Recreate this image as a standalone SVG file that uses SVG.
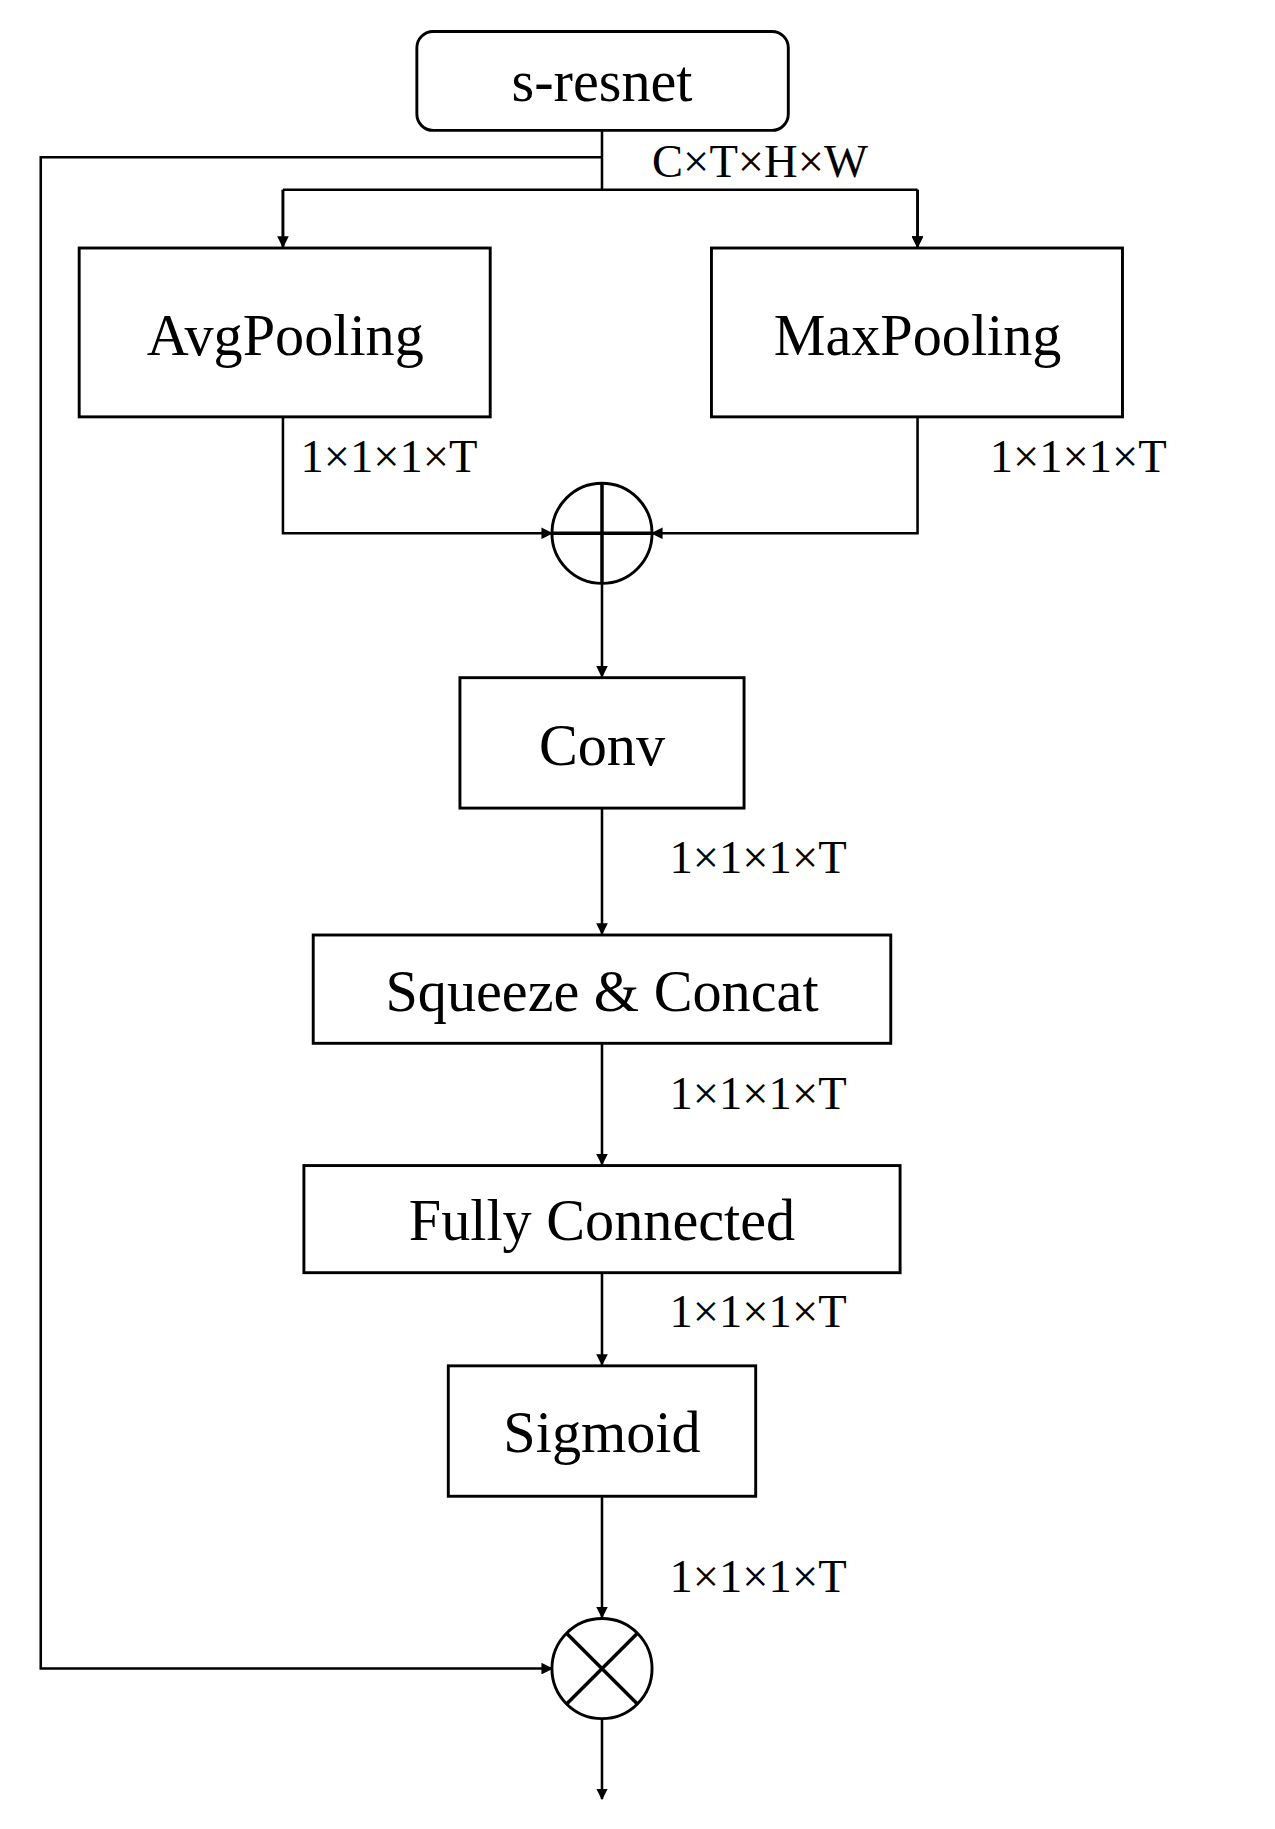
<svg xmlns="http://www.w3.org/2000/svg" width="1275" height="1829" viewBox="0 0 1275 1829">
<style>
.b{fill:#fff;stroke:#000;stroke-width:2.5}
.t{font-family:"Liberation Serif",serif;font-size:50px;text-anchor:middle;fill:#000}
.l{font-family:"Liberation Serif",serif;font-size:40px;fill:#000}
.c{fill:none;stroke:#000;stroke-width:2.2}
</style>
<defs><marker id="a" markerWidth="10" markerHeight="10" refX="9" refY="5" orient="auto" markerUnits="userSpaceOnUse"><path d="M0,0L10,5L0,10z" fill="#000"/></marker></defs>
<rect width="1275" height="1829" fill="#fff"/>
<g transform="scale(1.1644)">
<g id="connectors">
<path class="c" d="M517,112V163M243,163H788M243,163V212M788,163V212" marker-end="url(#a)"/>
<path class="c" d="M243,163V212" marker-end="url(#a)"/>
<path class="c" d="M788,163V212" marker-end="url(#a)"/>
<path class="c" d="M517,135H35V1433H474" marker-end="url(#a)"/>
<path class="c" d="M243,358V458H474" marker-end="url(#a)"/>
<path class="c" d="M788,358V458H560" marker-end="url(#a)"/>
<path class="c" d="M517,501V581" marker-end="url(#a)"/>
<path class="c" d="M517,694V802" marker-end="url(#a)"/>
<path class="c" d="M517,896V1000" marker-end="url(#a)"/>
<path class="c" d="M517,1093V1172" marker-end="url(#a)"/>
<path class="c" d="M517,1285V1389" marker-end="url(#a)"/>
<path class="c" d="M517,1476V1545" marker-end="url(#a)"/>
<text class="l" x="560" y="152">C×T×H×W</text>
<text class="l" x="258" y="405">1×1×1×T</text>
<text class="l" x="850" y="405">1×1×1×T</text>
<text class="l" x="575" y="750">1×1×1×T</text>
<text class="l" x="575" y="952">1×1×1×T</text>
<text class="l" x="575" y="1140">1×1×1×T</text>
<text class="l" x="575" y="1367">1×1×1×T</text>
</g>
<g id="sresnet"><rect class="b" x="358" y="27" width="319" height="85" rx="14"/><text class="t" x="517" y="87">s-resnet</text></g>
<g id="avg"><rect class="b" x="68" y="213" width="353" height="145"/><text class="t" x="245" y="305">AvgPooling</text></g>
<g id="max"><rect class="b" x="611" y="213" width="353" height="145"/><text class="t" x="788" y="305">MaxPooling</text></g>
<g id="plus"><circle class="b" cx="517" cy="458" r="43"/><path class="c" d="M474,458H560M517,415V501" style="stroke-width:3"/></g>
<g id="conv"><rect class="b" x="395" y="582" width="244" height="112"/><text class="t" x="517" y="657">Conv</text></g>
<g id="squeeze"><rect class="b" x="269" y="803" width="496" height="93"/><text class="t" x="517" y="868">Squeeze &amp; Concat</text></g>
<g id="fc"><rect class="b" x="261" y="1001" width="512" height="92"/><text class="t" x="517" y="1065">Fully Connected</text></g>
<g id="sigmoid"><rect class="b" x="385" y="1173" width="264" height="112"/><text class="t" x="517" y="1247">Sigmoid</text></g>
<g id="times"><circle class="b" cx="517" cy="1433" r="43"/><path class="c" d="M487,1403L547,1463M547,1403L487,1463" style="stroke-width:3"/></g>
</g>
</svg>
